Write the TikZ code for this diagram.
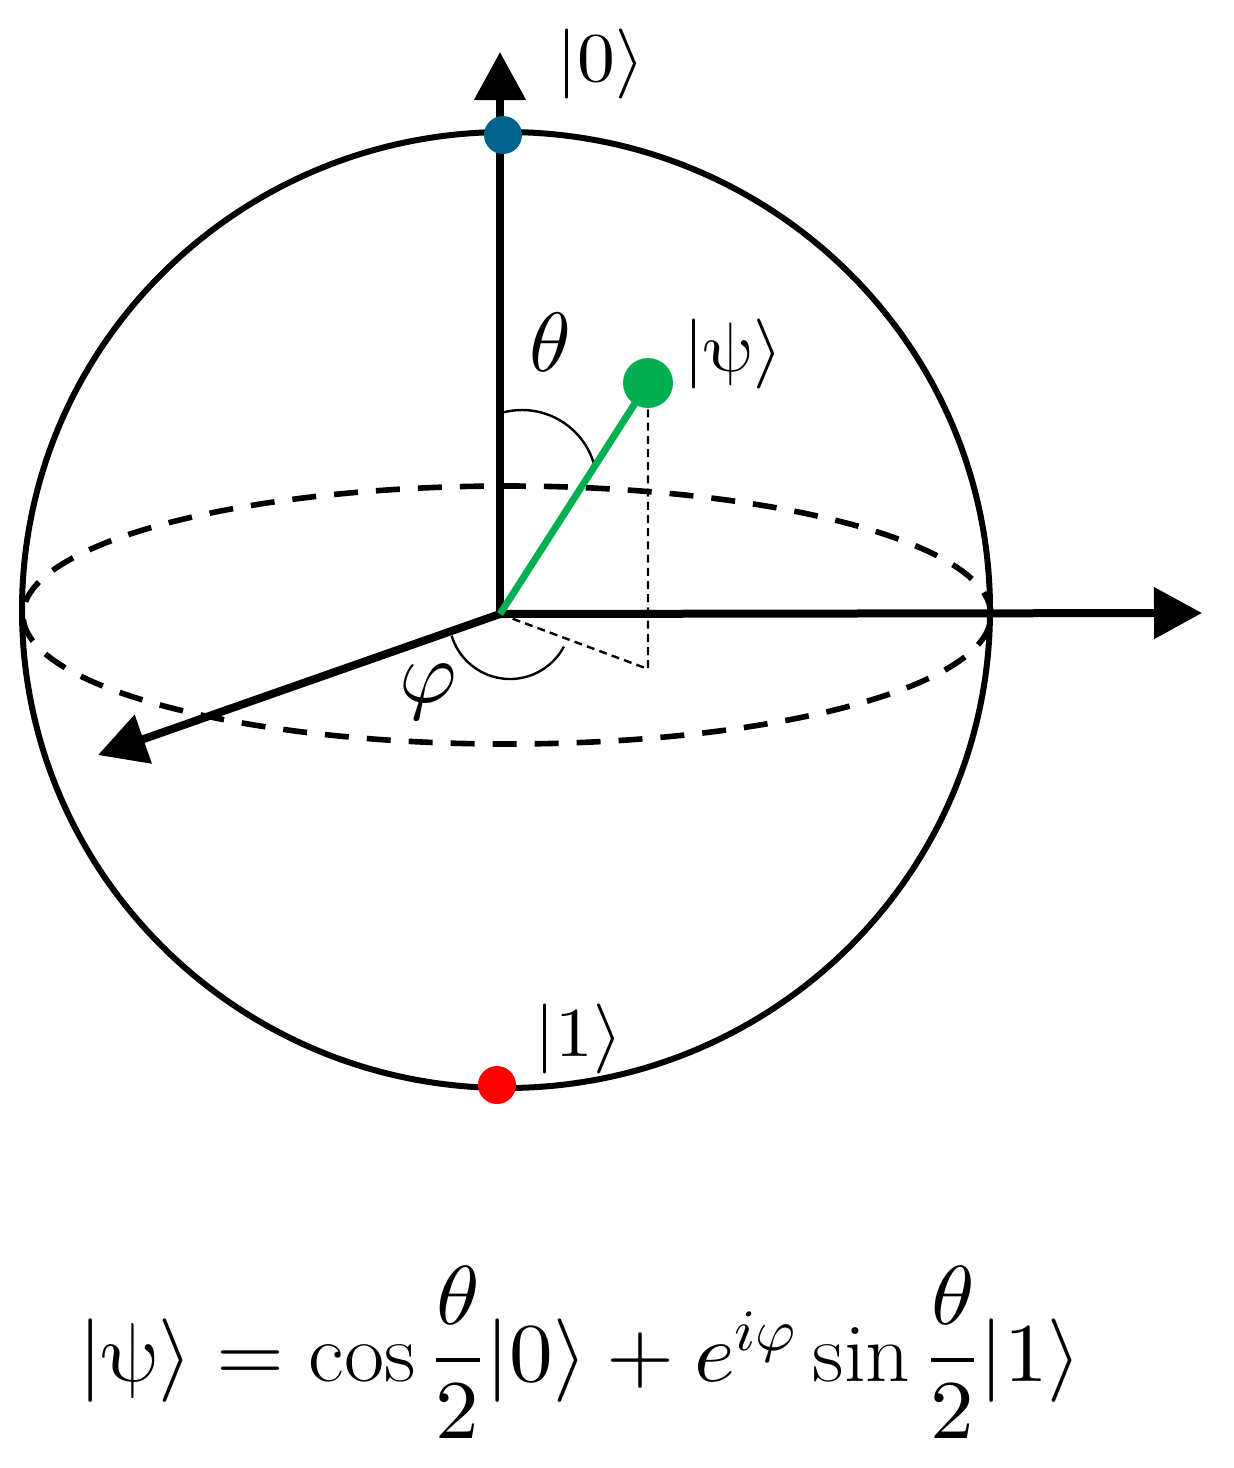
\documentclass[tikz,border=0pt]{standalone}
\usepackage{amsmath}
\usepackage{unicode-math}
\setmathfont{Latin Modern Math}
\usetikzlibrary{arrows.meta}
\definecolor{zeroblue}{RGB}{0,99,140}
\definecolor{psigreen}{RGB}{0,176,80}
\definecolor{onered}{RGB}{255,0,0}
\tikzset{
  sphereline/.style={line width=1.5pt},
  axisline/.style={line width=2pt, -{Triangle[length=12pt,width=12.5pt]}},
  equatorline/.style={line width=1.4pt, dash pattern=on 6pt off 4.5pt},
  guideline/.style={line width=0.6pt, dash pattern=on 2pt off 1.3pt},
  anglearc/.style={line width=0.6pt},
  vecline/.style={line width=1.75pt, draw=psigreen},
  dotnode/.style={circle, inner sep=0pt, minimum size=#1},
  ketlabel/.style={font=\fontsize{17.5}{20}\selectfont, inner sep=0pt, anchor=base, xscale=1.08},
  anglelabel/.style={font=\fontsize{#1}{24}\selectfont, inner sep=0pt, anchor=base},
  formula/.style={font=\fontsize{19}{23}\selectfont, inner sep=0pt, anchor=base}
}
\begin{document}
\begin{tikzpicture}[x=0.25pt,y=0.25pt]
\useasboundingbox (0,0) rectangle (1233,-1468);
% key points
\coordinate (O) at (500,-614);
\coordinate (ztip) at (500,-52);
\coordinate (xtip) at (1202,-613);
\coordinate (ytip) at (98,-755);
\coordinate (foot) at (648,-669);
\coordinate (psic) at (648,-383);
\coordinate (thc) at (522,-485);
\coordinate (phc) at (510,-618);
% sphere and equator
\draw[sphereline] (506,-610) ellipse [x radius=121pt, y radius=119.5pt];
\draw[equatorline] (507,-615) ellipse [x radius=121pt, y radius=32.25pt];
% axes
\draw[axisline] (O) -- (ztip);
\draw[axisline] (O) -- (xtip);
\draw[axisline] (O) -- (ytip);
% projection guides
\draw[guideline] (psic) -- (foot) -- (O);
% angle arcs
\draw[anglearc] ([shift={(105:18.75pt)}]thc) arc[start angle=105, end angle=13, radius=18.75pt];
\draw[anglearc] ([shift={(197:15.25pt)}]phc) arc[start angle=197, end angle=332, radius=15.25pt];
% state vector
\draw[vecline] (O) -- (psic);
\node[dotnode=12.5pt, fill=psigreen] (psidot) at (psic) {};
\node[dotnode=9.5pt, fill=zeroblue] (zerodot) at (503,-135) {};
\node[dotnode=9.5pt, fill=onered] (onedot) at (497,-1085) {};
% labels
\begin{scope}[shift={(601,-81)}]
\node[ketlabel, transform shape] (l0) at (0,0) {$|0\rangle$};
\end{scope}
\begin{scope}[shift={(733,-371)}]
\node[ketlabel, transform shape] (lpsi) at (0,0) {$|\symup{\psi}\rangle$};
\end{scope}
\begin{scope}[shift={(579,-1056)}]
\node[ketlabel, transform shape] (l1) at (0,0) {$|1\rangle$};
\end{scope}
\node[anglelabel=21] (lth) at (550,-371) {$\theta$};
\node[anglelabel=22] (lphi) at (428,-702) {$\varphi$};
\begin{scope}[shift={(580,-1381)}, xscale=1.15, yscale=1.1]
\node[formula, transform shape] (eq) at (0,0) {$|\symup{\psi}\rangle = \cos\dfrac{\theta}{2}|0\rangle + e^{i\varphi}\sin\dfrac{\theta}{2}|1\rangle$};
\end{scope}
\end{tikzpicture}
\end{document}
